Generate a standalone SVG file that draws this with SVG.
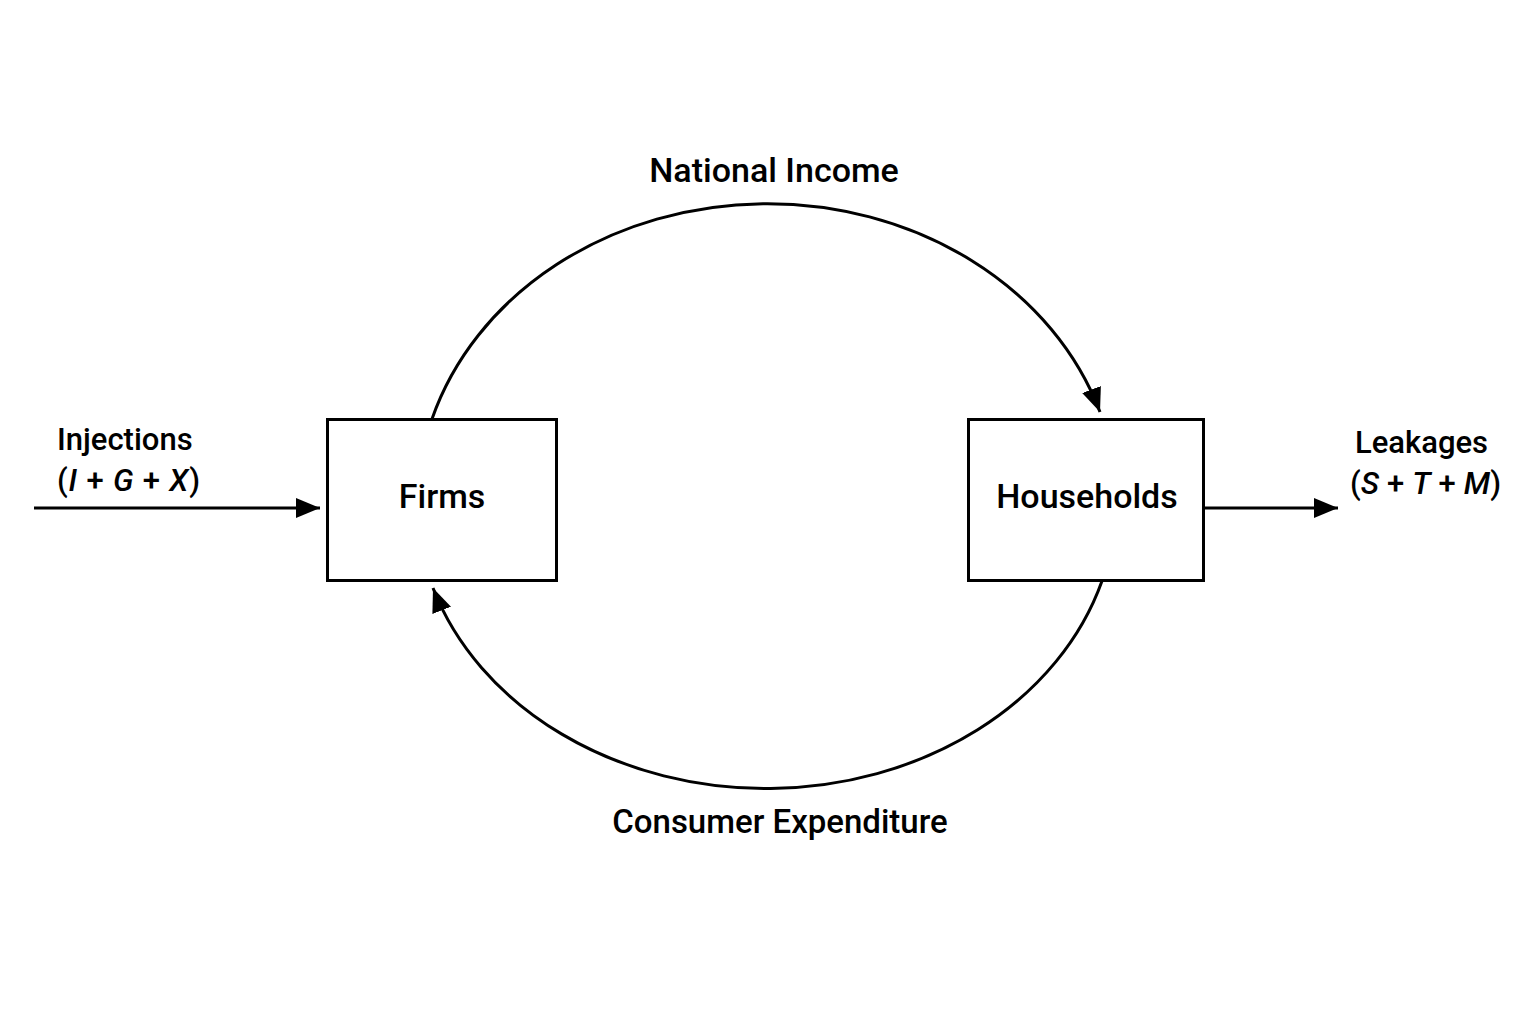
<svg xmlns="http://www.w3.org/2000/svg" width="1536" height="1024" viewBox="0 0 1536 1024">
<style>
.box{fill:#fff;stroke:#000;stroke-width:3}
.ln{fill:none;stroke:#000;stroke-width:3}
text{font-family:Roboto,"Liberation Sans",Arial,sans-serif;fill:#000;font-weight:500}
.nl{font-size:34px;text-anchor:middle}
.lb{font-size:31px}
</style>
<defs>
<marker id="ah" viewBox="0 0 24 20" refX="24" refY="10" markerWidth="24" markerHeight="20" markerUnits="userSpaceOnUse" orient="auto">
<path d="M0,0 L24,10 L0,20 Z" fill="#000"/>
</marker>
</defs>
<rect width="1536" height="1024" fill="#fff"/>
<g id="connectors">
<path class="ln" d="M432,419 A350,302 0 0 1 1100,412" marker-end="url(#ah)"/>
<path class="ln" d="M1102,581 A350,289 0 0 1 433,588" marker-end="url(#ah)"/>
<line class="ln" x1="34" y1="508" x2="320" y2="508" marker-end="url(#ah)"/>
<line class="ln" x1="1204" y1="508" x2="1338" y2="508" marker-end="url(#ah)"/>
</g>
<g id="firms">
<rect class="box" x="327.5" y="419.5" width="229" height="161"/>
<text class="nl" x="442" y="508">Firms</text>
</g>
<g id="households">
<rect class="box" x="968.5" y="419.5" width="235" height="161"/>
<text class="nl" x="1087" y="508">Households</text>
</g>
<g id="labels">
<text class="nl" x="774" y="182">National Income</text>
<text class="nl" x="780" y="833" style="font-size:33px">Consumer Expenditure</text>
<text class="lb" x="57" y="450">Injections</text>
<text class="lb" x="57" y="491" textLength="143" lengthAdjust="spacing">(<tspan font-style="italic">I</tspan> + <tspan font-style="italic">G</tspan> + <tspan font-style="italic">X</tspan>)</text>
<text class="lb" x="1355" y="453">Leakages</text>
<text class="lb" x="1350" y="494" textLength="151" lengthAdjust="spacing">(<tspan font-style="italic">S</tspan> + <tspan font-style="italic">T</tspan> + <tspan font-style="italic">M</tspan>)</text>
</g>
</svg>
